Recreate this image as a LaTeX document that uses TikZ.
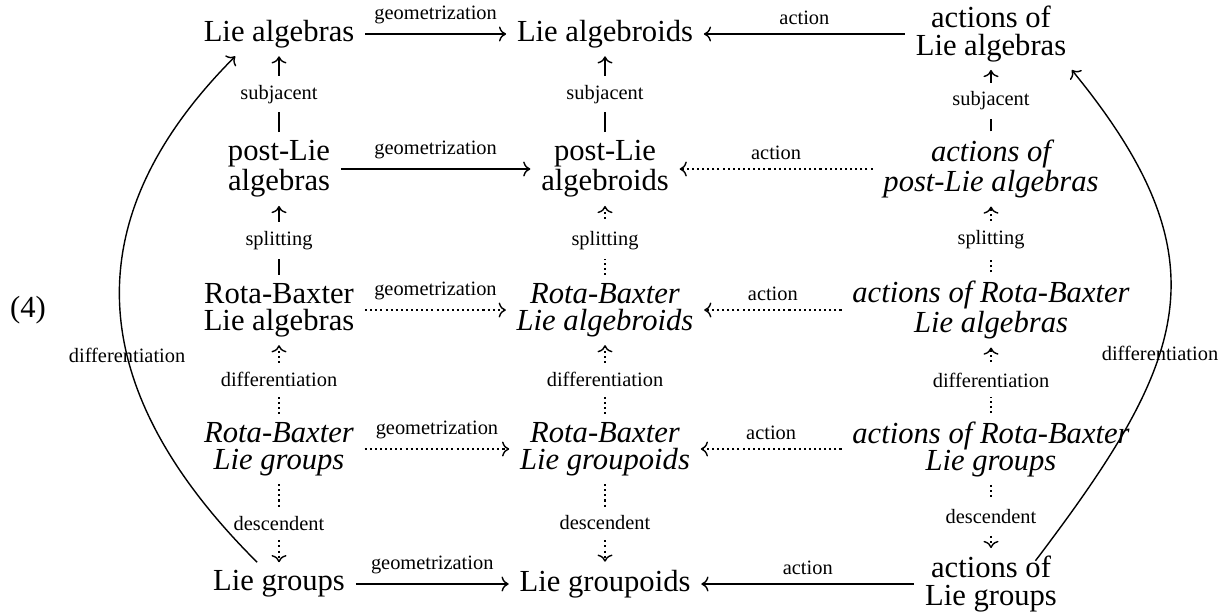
\documentclass[tikz,border=0pt]{standalone}
\usepackage{fontspec}
\setmainfont{Liberation Serif}
\usetikzlibrary{arrows.meta}
\newcommand\objfont{\fontsize{12}{10.6}\selectfont}
\newcommand\labfont{\fontsize{8}{9.5}\selectfont}
\begin{document}
\begin{tikzpicture}[x=0.392pt,y=-0.392pt,
  line width=0.55pt,
  obj/.style={font=\objfont, align=center, inner xsep=4pt, inner ysep=3pt},
  itobj/.style={obj, font=\objfont\itshape},
  lab/.style={font=\labfont, inner sep=3.5pt},
  vlab/.style={font=\labfont, fill=white, inner xsep=1pt, inner ysep=3.5pt},
  dotl/.style={dash pattern=on 0.8pt off 1.2pt},
  >=To]
\useasboundingbox (0,0) rectangle (1225,613);
% nodes
\node[obj] (la) at (279,34) {Lie algebras};
\node[obj] (lad) at (605,34) {Lie algebroids};
\node[obj] (ala) at (991,34) {actions of\\Lie algebras};
\node[obj] (pla) at (279,169) {post-Lie\\algebras};
\node[obj] (plad) at (605,169) {post-Lie\\algebroids};
\node[itobj] (apla) at (991,169) {actions of\\post-Lie algebras};
\node[obj] (rba) at (279,310) {Rota-Baxter\\Lie algebras};
\node[itobj] (rbad) at (605,310) {Rota-Baxter\\Lie algebroids};
\node[itobj] (arba) at (991,310) {actions of Rota-Baxter\\Lie algebras};
\node[itobj] (rbg) at (279,449) {Rota-Baxter\\Lie groups};
\node[itobj] (rbgd) at (605,449) {Rota-Baxter\\Lie groupoids};
\node[itobj] (arbg) at (991,449) {actions of Rota-Baxter\\Lie groups};
\node[obj] (lg) at (279,584) {Lie groups};
\node[obj] (lgd) at (605,584) {Lie groupoids};
\node[obj] (alg) at (991,584) {actions of\\Lie groups};
\node[obj] (eq) at (28,310) {(4)};
% horizontal arrows
\draw[->] (la) -- node[lab,above]{geometrization} (lad);
\draw[->] (ala) -- node[lab,above]{action} (lad);
\draw[->] (pla) -- node[lab,above]{geometrization} (plad);
\draw[->,dotl] (apla) -- node[lab,above]{action} (plad);
\draw[->,dotl] (rba) -- node[lab,above]{geometrization} (rbad);
\draw[->,dotl] (arba) -- node[lab,above]{action} (rbad);
\draw[->,dotl] (rbg) -- node[lab,above]{geometrization} (rbgd);
\draw[->,dotl] (arbg) -- node[lab,above]{action} (rbgd);
\draw[->] (lg) -- node[lab,above]{geometrization} (lgd);
\draw[->] (alg) -- node[lab,above]{action} (lgd);
% vertical arrows, left
\draw[->] (pla) -- node[vlab]{subjacent} (la);
\draw[->] (rba) -- node[vlab]{splitting} (pla);
\draw[->,dotl] (rbg) -- node[vlab]{differentiation} (rba);
\draw[->,dotl] (rbg) -- node[vlab]{descendent} (lg);
% middle
\draw[->] (plad) -- node[vlab]{subjacent} (lad);
\draw[->,dotl] (rbad) -- node[vlab]{splitting} (plad);
\draw[->,dotl] (rbgd) -- node[vlab]{differentiation} (rbad);
\draw[->,dotl] (rbgd) -- node[vlab]{descendent} (lgd);
% right
\draw[->] (apla) -- node[vlab]{subjacent} (ala);
\draw[->,dotl] (arba) -- node[vlab]{splitting} (apla);
\draw[->,dotl] (arbg) -- node[vlab]{differentiation} (arba);
\draw[->,dotl] (arbg) -- node[vlab]{descendent} (alg);
% curves
\draw[->] (lg) .. controls (89,395) and (67,225) .. node[lab,pos=0.41]{differentiation} (la.207);
\draw[->] ([yshift=-5pt]alg.39) .. controls (1186,362) and (1229,262) .. node[lab,pos=0.41]{differentiation} (ala.-24);
\end{tikzpicture}
\end{document}
